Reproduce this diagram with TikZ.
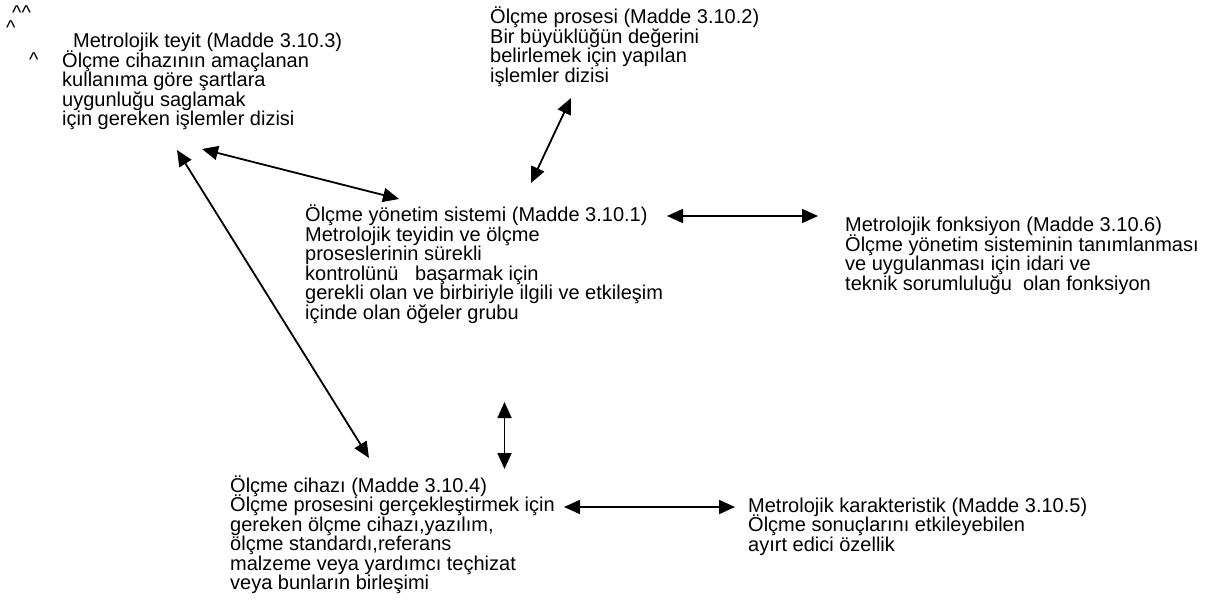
\documentclass[tikz,border=0pt]{standalone}
\usepackage{fontspec}
\setmainfont{Liberation Sans}
\usetikzlibrary{arrows.meta}
% a block of left-aligned lines at a fixed line pitch; its baseline is that of the first line
\newcommand\blk[1]{\vtop{\baselineskip=19.5pt\lineskiplimit=-\maxdimen\lineskip=0pt\halign{##\hfil\cr#1\crcr}}}
\begin{document}
\begin{tikzpicture}[x=1pt,y=-1pt,
  txt/.style={inner sep=0pt, anchor=base west, font=\fontsize{20}{19.5}\selectfont},
  link/.style={line width=1.8pt,
    {Triangle[length=16pt,width=14pt]}-{Triangle[length=16pt,width=14pt]}}]
\fill[white] (0,0) rectangle (1211,615);
\useasboundingbox (0,0) rectangle (1211,615);

% stray carets in the top left corner
\node[txt] (c1) at (12,19.5) {\textasciicircum\textasciicircum};
\node[txt] (c2) at (6,34.5) {\textasciicircum};
\node[txt] (c3) at (29,67) {\textasciicircum};

% text blocks
\node[txt] (teyit) at (62,48) {\blk{\hskip11pt Metrolojik teyit (Madde 3.10.3)\cr
  Ölçme cihazının amaçlanan\cr
  kullanıma göre şartlara\cr
  uygunluğu saglamak\cr
  için gereken işlemler dizisi}};

\node[txt] (proses) at (490,24) {\blk{Ölçme prosesi (Madde 3.10.2)\cr
  Bir büyüklüğün değerini\cr
  belirlemek için yapılan\cr
  işlemler dizisi}};

\node[txt] (sistem) at (305,222) {\blk{Ölçme yönetim sistemi (Madde 3.10.1)\cr
  Metrolojik teyidin ve ölçme\cr
  proseslerinin sürekli\cr
  kontrolünü\ \ \ başarmak için\cr
  gerekli olan ve birbiriyle ilgili ve etkileşim\cr
  içinde olan öğeler grubu}};

\node[txt] (fonk) at (845,232) {\blk{Metrolojik fonksiyon (Madde 3.10.6)\cr
  Ölçme yönetim sisteminin tanımlanması\cr
  ve uygulanması için idari ve\cr
  teknik sorumluluğu\ \ olan fonksiyon}};

\node[txt] (cihaz) at (230,492) {\blk{Ölçme cihazı (Madde 3.10.4)\cr
  Ölçme prosesini gerçekleştirmek için\cr
  gereken ölçme cihazı,yazılım,\cr
  ölçme standardı,referans\cr
  malzeme veya yardımcı teçhizat\cr
  veya bunların birleşimi}};

\node[txt] (karak) at (748,512) {\blk{Metrolojik karakteristik (Madde 3.10.5)\cr
  Ölçme sonuçlarını etkileyebilen\cr
  ayırt edici özellik}};

% arrow end points
\coordinate (teyitA) at (202,149);
\coordinate (sistemA) at (399,199);
\coordinate (teyitB) at (177,150);
\coordinate (cihazB) at (369,458);
\coordinate (prosesC) at (571,98);
\coordinate (sistemC) at (531,183);
\coordinate (sistemD) at (667,216);
\coordinate (fonkD) at (818,216);
\coordinate (sistemE) at (504.5,402);
\coordinate (cihazE) at (504.5,469);
\coordinate (cihazF) at (564,507);
\coordinate (karakF) at (735,507);

% connectors
\draw[link] (teyitA) -- (sistemA);
\draw[link] (teyitB) -- (cihazB);
\draw[link] (prosesC) -- (sistemC);
\draw[link] (sistemD) -- (fonkD);
\draw[link] (sistemE) -- (cihazE);
\draw[link] (cihazF) -- (karakF);
\end{tikzpicture}
\end{document}
